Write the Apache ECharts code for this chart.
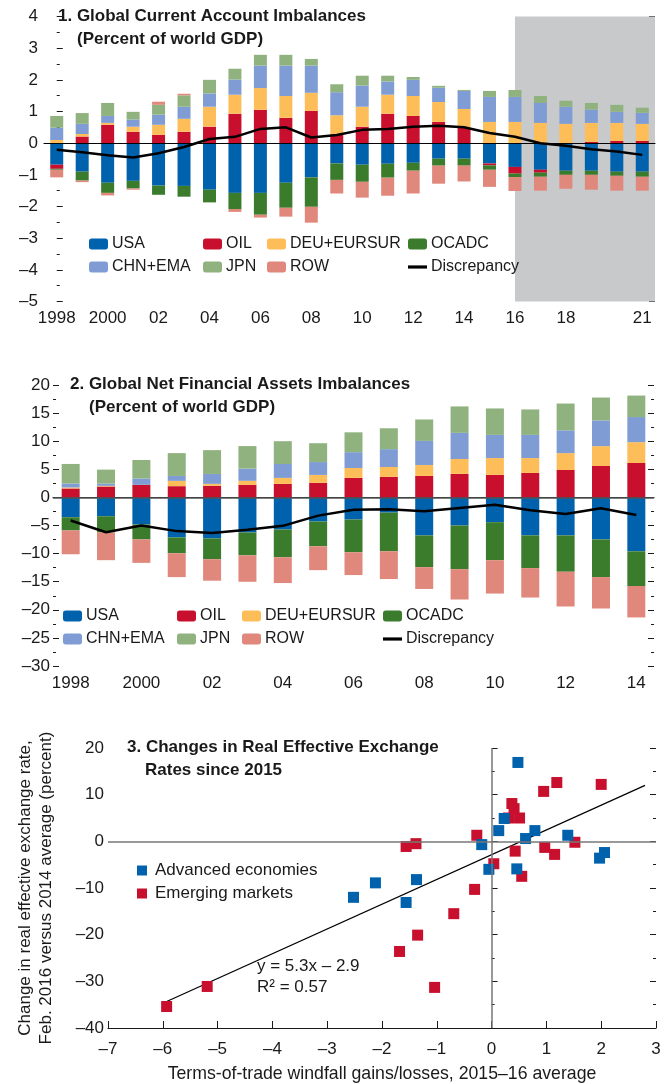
<!DOCTYPE html>
<html>
<head>
<meta charset="utf-8">
<script src="https://cdn.jsdelivr.net/npm/echarts@6/dist/echarts.min.js"></script>
<style>
  html, body { margin: 0; padding: 0; background: #fff; }
  #chart { width: 665px; height: 1084px; }
</style>
</head>
<body>
<div id="chart"></div>
<script>
// ---- panel 1: current account, percent of world GDP (1998-2021) ----
const years1 = ['1998','1999','2000','2001','2002','2003','2004','2005','2006','2007','2008','2009',
  '2010','2011','2012','2013','2014','2015','2016','2017','2018','2019','2020','2021'];
const usa1   = [-0.68,-0.90,-1.25,-1.19,-1.34,-1.35,-1.47,-1.57,-1.57,-1.25,-1.08,-0.64,-0.68,-0.65,-0.62,-0.49,-0.49,-0.64,-0.75,-0.84,-0.87,-0.87,-0.90,-0.90];
const oil1   = [-0.13,0.21,0.58,0.36,0.26,0.36,0.52,0.93,1.05,0.80,1.02,0.28,0.52,0.93,0.86,0.67,0.48,-0.06,-0.21,-0.09,0,0.04,0.07,0.07];
const deu1   = [0.10,0.08,0.06,0.16,0.32,0.41,0.63,0.60,0.69,0.69,0.57,0.60,0.63,0.60,0.63,0.63,0.60,0.67,0.67,0.64,0.61,0.60,0.57,0.54];
const ocadc1 = [-0.03,-0.28,-0.32,-0.24,-0.29,-0.34,-0.40,-0.51,-0.69,-0.79,-0.93,-0.52,-0.54,-0.44,-0.25,-0.22,-0.22,-0.14,-0.11,-0.13,-0.13,-0.13,-0.13,-0.16];
const chn1   = [0.39,0.32,0.22,0.23,0.32,0.38,0.42,0.48,0.71,0.96,0.86,0.73,0.67,0.42,0.51,0.45,0.57,0.79,0.79,0.63,0.54,0.42,0.35,0.35];
const jpn1   = [0.37,0.34,0.41,0.24,0.31,0.36,0.43,0.34,0.34,0.34,0.21,0.25,0.31,0.18,0.09,0.06,0.03,0.19,0.22,0.22,0.19,0.21,0.22,0.16];
const row1   = [-0.24,-0.05,-0.08,-0.04,0.10,0.05,0,-0.09,-0.09,-0.28,-0.50,-0.43,-0.50,-0.57,-0.72,-0.57,-0.50,-0.54,-0.44,-0.44,-0.44,-0.47,-0.47,-0.44];
const disc1  = [-0.21,-0.29,-0.38,-0.45,-0.32,-0.12,0.13,0.20,0.45,0.50,0.18,0.26,0.42,0.45,0.52,0.55,0.50,0.32,0.20,0.00,-0.08,-0.19,-0.26,-0.37];
const projFrom = 18; // index of 2016, start of the projection shading

// ---- panel 2: net financial assets, percent of world GDP (1998-2014) ----
const years2 = ['1998','1999','2000','2001','2002','2003','2004','2005','2006','2007','2008','2009','2010','2011','2012','2013','2014'];
const usa2   = [-3.53,-3.35,-4.82,-7.12,-7.29,-6.24,-5.71,-4.29,-3.94,-2.71,-6.76,-5.00,-4.41,-6.76,-6.76,-7.47,-9.59];
const oil2   = [1.59,1.94,2.24,2.00,2.06,2.24,2.41,2.59,3.47,3.65,3.82,4.18,4.00,4.35,4.88,5.59,6.12];
const deu2   = [0.18,0.12,0,0.94,0.35,0.71,1.06,1.41,1.76,1.76,1.94,2.65,3.00,2.65,3.00,3.53,3.71];
const ocadc2 = [-2.35,-2.88,-2.65,-2.82,-3.71,-4.06,-4.94,-4.41,-5.82,-6.88,-5.65,-7.76,-6.76,-5.82,-6.47,-6.71,-6.18];
const chn2   = [0.71,0.41,1.12,0.88,1.76,2.18,2.47,2.29,2.82,3.18,4.29,4.65,4.12,4.12,4.06,4.59,4.47];
const jpn2   = [3.47,2.47,3.29,4.06,4.24,4.00,4.06,3.35,3.53,3.71,3.82,4.71,4.71,4.53,4.76,4.06,3.82];
const row2   = [-4.24,-4.94,-4.18,-4.24,-3.82,-4.71,-4.59,-4.24,-4.06,-4.94,-3.88,-5.41,-5.94,-5.24,-6.18,-5.59,-5.59];
const disc2  = [-4.1,-6.2,-5.0,-6.0,-6.35,-5.76,-5.06,-3.24,-2.18,-2.12,-2.47,-1.88,-1.29,-2.29,-2.94,-1.94,-3.12];

// ---- panel 3: terms-of-trade gains vs REER change ----
const advanced = [[0.48,16.9],[0.23,4.9],[0.13,2.3],[0.79,2.3],[0.62,0.6],[1.39,1.3],[-0.18,-0.7],[1.97,-3.6],
  [2.06,-2.4],[-0.05,-6.0],[0.46,-5.9],[-1.37,-8.2],[-2.12,-8.9],[-2.52,-12.0],[-1.56,-13.1]];
const emerging = [[1.19,12.6],[2.0,12.2],[0.95,10.7],[0.37,8.1],[0.41,7.0],[0.31,5.0],[0.51,5.0],[-0.27,1.3],
  [-1.38,-0.5],[-1.56,-1.1],[1.52,-0.2],[0.97,-1.3],[1.15,-2.8],[0.43,-2.1],[0.04,-4.8],[0.55,-7.5],[-0.31,-10.3],
  [-0.69,-15.5],[-1.35,-20.1],[-1.68,-23.6],[-1.04,-31.3],[-5.93,-35.4],[-5.19,-31.1]];
const fitLine = [[-6.0,-34.7],[2.8,12.0]]; // y = 5.3x - 2.9

const FONT = "'Liberation Sans', Arial, sans-serif";
const INK = '#1a1a1a';
const colors = {
  USA: '#0062ad', OIL: '#c8102e', 'DEU+EURSUR': '#fdbe5a', OCADC: '#3a7b2c',
  'CHN+EMA': '#7f9dd4', JPN: '#90b27f', ROW: '#e0887c'
};
const minus = v => String(v).replace('-', '\u2013');

const chart = echarts.init(document.getElementById('chart'));

function valueAxis(grid, min, max, step, pos, labels, margin) {
  return {
    type: 'value', gridIndex: grid, position: pos, min: min, max: max, interval: step,
    axisLine: { show: false },
    axisTick: { show: true, inside: true, length: 6, lineStyle: { color: INK, width: 1 } },
    minorTick: { show: true, splitNumber: 2, length: 3, lineStyle: { color: INK, width: 1 } },
    splitLine: { show: false },
    axisLabel: { show: labels, margin: margin, color: INK, fontSize: 17, fontFamily: FONT, formatter: minus }
  };
}

function catAxis(grid, data, showFn, margin) {
  return {
    type: 'category', gridIndex: grid, data: data, boundaryGap: true, position: 'bottom',
    axisLine: { lineStyle: { color: INK, width: 1.2 } },
    axisTick: { inside: true, interval: 0, alignWithLabel: true, length: 7, lineStyle: { color: INK } },
    axisLabel: {
      margin: margin, color: INK, fontSize: 17, fontFamily: FONT,
      interval: (i, v) => showFn(+v),
      formatter: v => (+v < 2001 ? v : v.slice(2))
    }
  };
}

function stackSeries(names, values, xi, yi, stack, barW) {
  return names.map((n, k) => ({
    name: n, type: 'bar', stack: stack, xAxisIndex: xi, yAxisIndex: yi,
    barWidth: barW, data: values[k], itemStyle: { color: colors[n] }, silent: true
  }));
}

const lineIcon = 'path://M0,0L19,0L19,3.2L0,3.2Z';

function legendCol(left, top, items) {
  return {
    orient: 'vertical', left: left, top: top, padding: 0, itemGap: 7,
    itemWidth: 19, itemHeight: 11, selectedMode: false,
    data: items.map(n => (n === 'Discrepancy' ? { name: n, icon: lineIcon } : n)),
    textStyle: { fontSize: 16, color: INK, fontFamily: FONT, padding: [0, 0, 0, -1] }
  };
}

const names = ['USA', 'OIL', 'DEU+EURSUR', 'OCADC', 'CHN+EMA', 'JPN', 'ROW'];
const vals1 = [usa1, oil1, deu1, ocadc1, chn1, jpn1, row1];
const vals2 = [usa2, oil2, deu2, ocadc2, chn2, jpn2, row2];

function titleText(text, left, top, bold) {
  return {
    text: text, left: left, top: top, padding: 0,
    textStyle: { fontSize: 17, fontWeight: bold ? 'bold' : 'normal', color: INK, fontFamily: FONT }
  };
}

const option = {
  animation: false,
  title: [
    titleText('1. Global Current Account Imbalances', 58, 8, true),
    titleText('(Percent of world GDP)', 77, 31, true),
    titleText('2. Global Net Financial Assets Imbalances', 70, 376, true),
    titleText('(Percent of world GDP)', 89, 399, true),
    titleText('3. Changes in Real Effective Exchange', 127, 739, true),
    titleText('Rates since 2015', 145, 762, true),
    titleText('y = 5.3x \u2013 2.9', 257, 958, false),
    titleText('R\u00b2 = 0.57', 257, 979, false)
  ],
  legend: [
    legendCol(89, 236, ['USA', 'CHN+EMA']),
    legendCol(203, 236, ['OIL', 'JPN']),
    legendCol(267, 236, ['DEU+EURSUR', 'ROW']),
    legendCol(408, 236, ['OCADC', 'Discrepancy']),
    legendCol(63, 608, ['USA', 'CHN+EMA']),
    legendCol(177, 608, ['OIL', 'JPN']),
    legendCol(242, 608, ['DEU+EURSUR', 'ROW']),
    legendCol(383, 608, ['OCADC', 'Discrepancy']),
    {
      orient: 'vertical', left: 137, top: 862, padding: 0, itemGap: 6, itemWidth: 10, itemHeight: 10,
      icon: 'rect', selectedMode: false, data: ['Advanced economies', 'Emerging markets'],
      textStyle: { fontSize: 17, color: INK, fontFamily: FONT, padding: [0, 0, 0, 3] }
    }
  ],
  grid: [
    { left: 44, top: 16.5, width: 611, height: 285 },
    { left: 53, top: 385, width: 601, height: 281 },
    { left: 108, top: 748, width: 548, height: 280 }
  ],
  xAxis: [
    catAxis(0, years1, y => y % 2 === 0 && y !== 2020 || y === 2021, 8),
    { type: 'value', gridIndex: 0, min: -0.5, max: years1.length - 0.5, show: false },
    catAxis(1, years2, y => y % 2 === 0, 9),
    {
      type: 'value', gridIndex: 2, min: -7, max: 3, interval: 1,
      axisLine: { onZero: false, lineStyle: { color: INK, width: 1.2 } },
      axisTick: { inside: true, length: 7, lineStyle: { color: INK } },
      splitLine: { show: false },
      axisLabel: { margin: 13, color: INK, fontSize: 17, fontFamily: FONT, formatter: minus },
      name: 'Terms-of-trade windfall gains/losses, 2015\u201316 average',
      nameLocation: 'middle', nameGap: 37,
      nameTextStyle: { fontSize: 17.7, color: INK, fontFamily: FONT }
    }
  ],
  yAxis: [
    valueAxis(0, -5, 4, 1, 'left', true, 6),
    valueAxis(0, -5, 4, 1, 'right', false, 0),
    valueAxis(1, -30, 20, 5, 'left', true, 3),
    valueAxis(1, -30, 20, 5, 'right', false, 0),
    Object.assign(valueAxis(2, -40, 20, 10, 'left', true, 4), {
      name: 'Change in real effective exchange rate,\nFeb. 2016 versus 2014 average (percent)',
      nameLocation: 'middle', nameGap: 51, nameRotate: 90,
      nameTextStyle: { fontSize: 17, color: INK, fontFamily: FONT, lineHeight: 21 }
    }),
    valueAxis(2, -40, 20, 10, 'right', false, 0)
  ],
  series: [
    {
      type: 'line', xAxisIndex: 1, yAxisIndex: 0, data: [], silent: true, z: 0,
      markArea: {
        silent: true, itemStyle: { color: '#c8c9cb' },
        data: [[{ xAxis: projFrom, yAxis: 4 }, { xAxis: years1.length - 0.5, yAxis: -5 }]]
      }
    },
    ...stackSeries(names, vals1, 0, 0, 'ca', 13),
    {
      name: 'Discrepancy', type: 'line', xAxisIndex: 0, yAxisIndex: 0, data: disc1,
      symbol: 'none', lineStyle: { color: '#000', width: 2.5 }, itemStyle: { color: '#000' }, z: 4, silent: true,
      markLine: {
        silent: true, symbol: 'none', label: { show: false },
        lineStyle: { color: '#000', width: 1.2, type: 'solid' }, data: [{ yAxis: 0 }]
      }
    },
    ...stackSeries(names, vals2, 2, 2, 'nfa', 18),
    {
      name: 'Discrepancy', type: 'line', xAxisIndex: 2, yAxisIndex: 2, data: disc2,
      symbol: 'none', lineStyle: { color: '#000', width: 2.5 }, itemStyle: { color: '#000' }, z: 4, silent: true,
      markLine: {
        silent: true, symbol: 'none', label: { show: false },
        lineStyle: { color: '#555', width: 1.5, type: 'solid' }, data: [{ yAxis: 0 }]
      }
    },
    {
      type: 'line', xAxisIndex: 3, yAxisIndex: 4, data: fitLine, symbol: 'none', silent: true,
      lineStyle: { color: '#000', width: 1.2 }, z: 1,
      markLine: {
        silent: true, symbol: 'none', label: { show: false },
        lineStyle: { color: '#777', width: 1.5, type: 'solid' }, data: [{ yAxis: 0 }, { xAxis: 0 }]
      }
    },
    {
      name: 'Advanced economies', type: 'scatter', xAxisIndex: 3, yAxisIndex: 4, data: advanced,
      symbol: 'rect', symbolSize: 11, itemStyle: { color: '#0062ad', opacity: 1 }, z: 3, silent: true
    },
    {
      name: 'Emerging markets', type: 'scatter', xAxisIndex: 3, yAxisIndex: 4, data: emerging,
      symbol: 'rect', symbolSize: 11, itemStyle: { color: '#c8102e', opacity: 1 }, z: 2, silent: true
    }
  ]
};

chart.setOption(option);
</script>
</body>
</html>
